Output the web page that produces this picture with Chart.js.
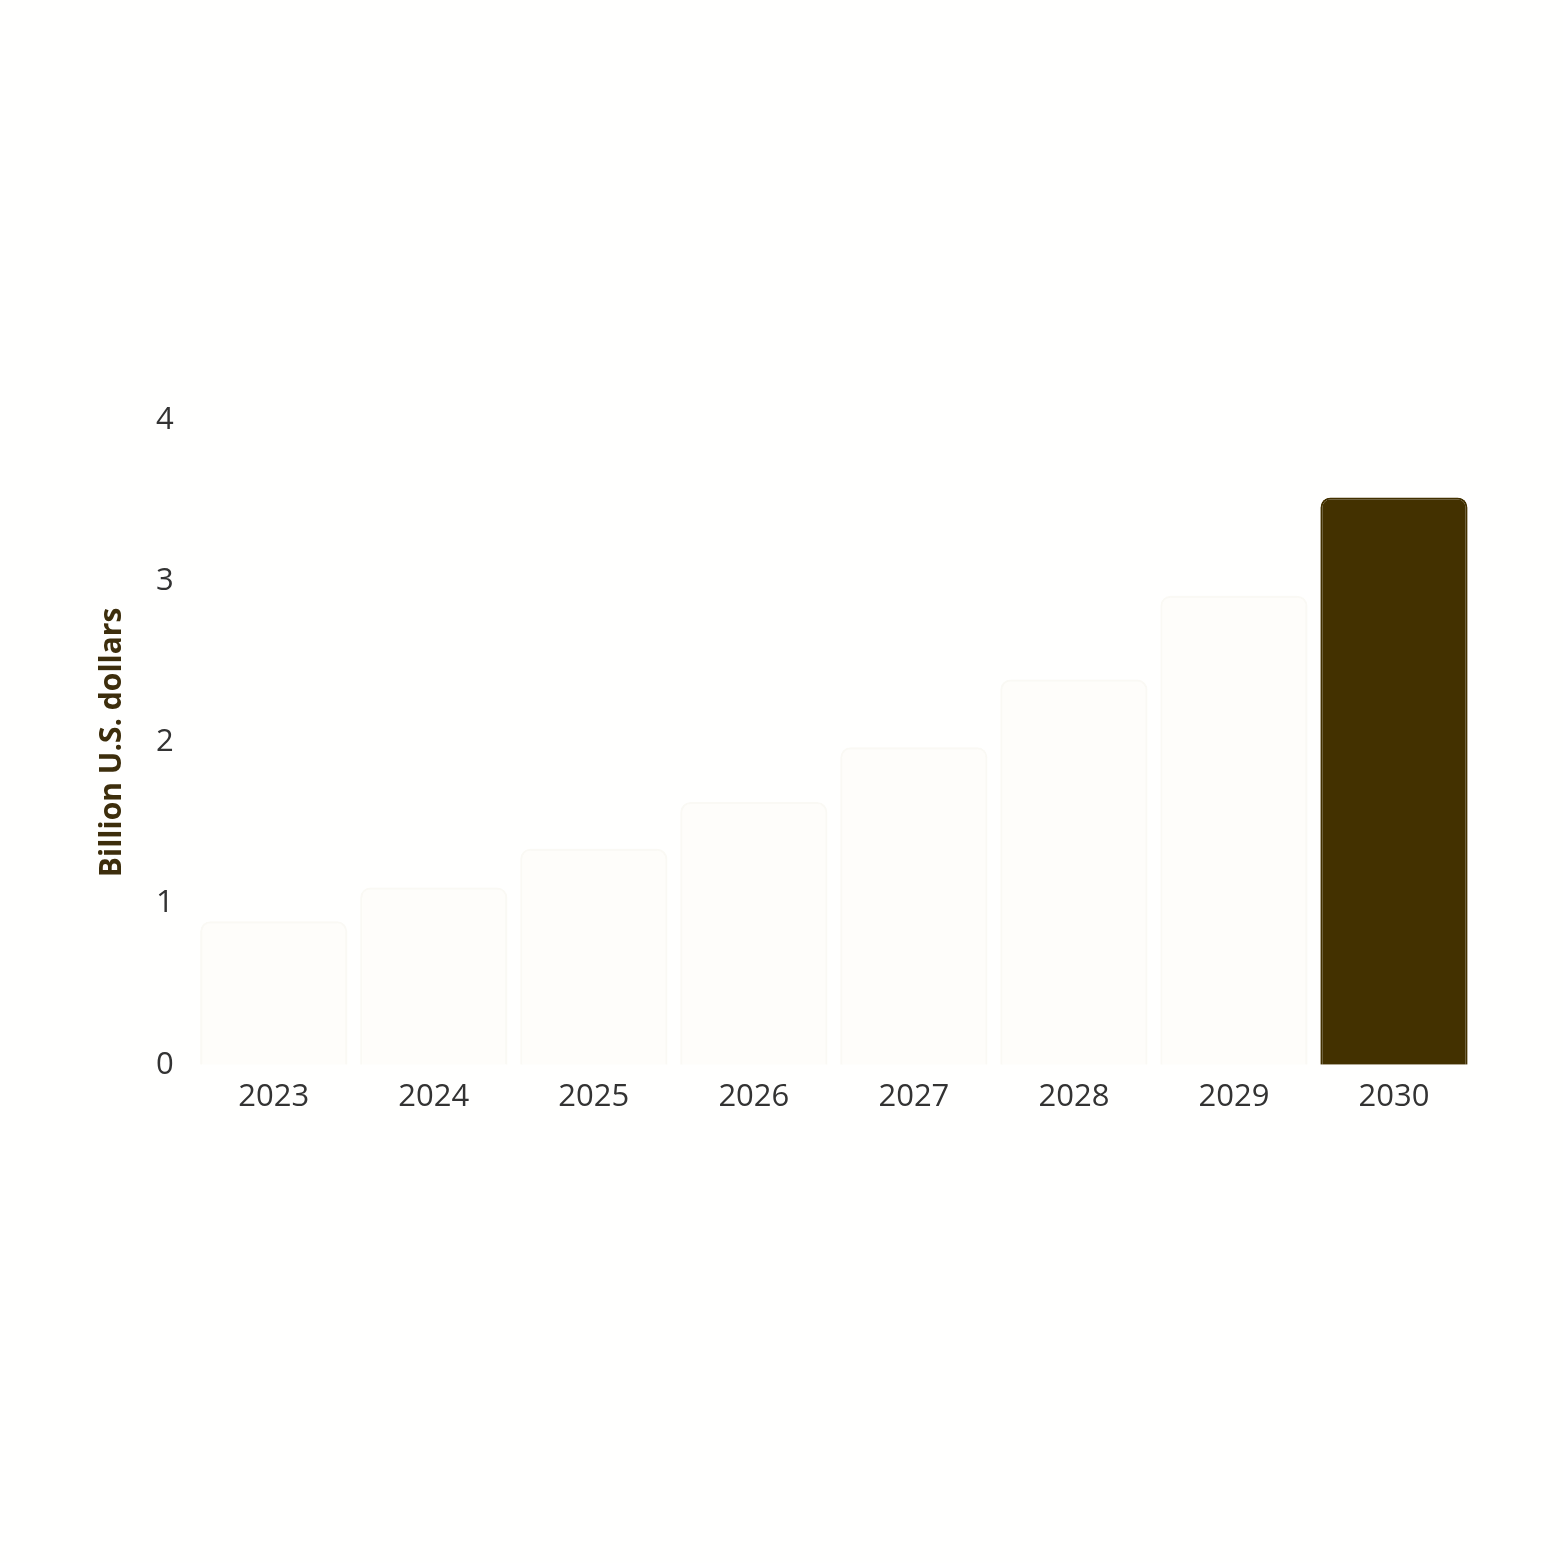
<!DOCTYPE html>
<html>
<head>
<meta charset="utf-8">
<script src="https://cdn.jsdelivr.net/npm/chart.js@4/dist/chart.umd.min.js"></script>
<style>
  html, body { margin: 0; padding: 0; background: #fffffe; }
  #wrap { width: 1563px; height: 1563px; }
</style>
</head>
<body>
<div id="wrap"><canvas id="myChart"></canvas></div>
<script>
const years = ['2023', '2024', '2025', '2026', '2027', '2028', '2029', '2030'];
const marketValues = [0.89, 1.10, 1.34, 1.63, 1.97, 2.39, 2.91, 3.52];
const yTicks = [0, 1, 2, 3, 4];

// only the last bar is fully drawn, the rest are barely visible
const fillColors = years.map((y, i) => i === years.length - 1 ? '#433100' : 'rgba(250, 248, 240, 0.25)');
const edgeColors = years.map((y, i) => i === years.length - 1 ? '#433100' : 'rgba(235, 230, 215, 0.25)');

Chart.defaults.font.family = '"Open Sans", "Noto Sans", sans-serif';

var ctx = document.getElementById('myChart').getContext('2d');
var chart = new Chart(ctx, {
    type: 'bar',
    data: {
        labels: years,
        datasets: [{
            label: 'Market value',
            data: marketValues,
            backgroundColor: fillColors,
            borderColor: edgeColors,
            borderWidth: 2,
            borderSkipped: 'bottom',
            borderRadius: { topLeft: 10, topRight: 10 },
            barPercentage: 0.92,
            categoryPercentage: 1.0
        }]
    },
    options: {
        responsive: true,
        maintainAspectRatio: false,
        animation: false,
        layout: {
            padding: { top: 420, bottom: 441, left: 80, right: 89 }
        },
        plugins: {
            legend: { display: false },
            tooltip: { enabled: false }
        },
        scales: {
            x: {
                grid: { display: false },
                border: { display: false },
                ticks: {
                    color: '#333333',
                    font: { size: 31 },
                    padding: 6
                }
            },
            y: {
                min: 0,
                max: 4,
                afterBuildTicks: (axis) => { axis.ticks = yTicks.map(v => ({ value: v })); },
                grid: { display: false },
                border: { display: false },
                ticks: {
                    color: '#333333',
                    font: { size: 31 },
                    padding: 12
                },
                title: {
                    display: true,
                    text: 'Billion U.S. dollars',
                    color: '#3d2e0c',
                    font: { size: 30, weight: 'bold' },
                    padding: 14
                }
            }
        }
    }
});
</script>
</body>
</html>
